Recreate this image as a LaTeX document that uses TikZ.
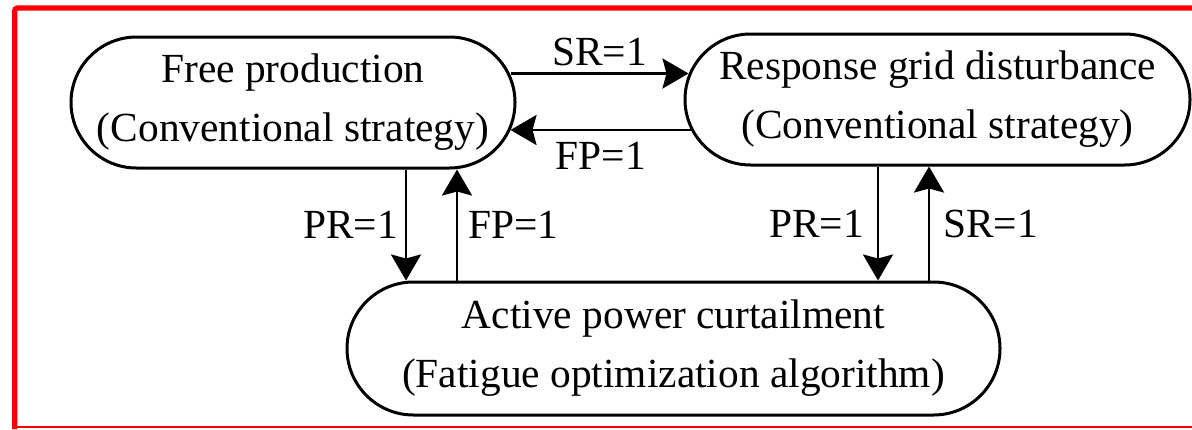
\documentclass[tikz,border=0pt]{standalone}
\usepackage{fontspec}
\setmainfont{Liberation Serif}
\usetikzlibrary{arrows.meta}

\begin{document}
\begin{tikzpicture}[x=0.5pt, y=-0.5pt, font=\fontsize{20.7}{29.5}\selectfont,
		modebox/.style={draw, line width=1.5pt, rounded corners=32.75pt, minimum height=65.5pt, align=center, inner sep=0pt},
		flow/.style={-{Stealth[length=13pt, width=15pt, inset=2pt]}, line width=1.4pt}]
			\useasboundingbox (0, 0) rectangle (1192, 429);
			\draw [red, line width=2.7pt, rounded corners=1.5pt] (1192, 8) -- (14.7, 8) -- (14.7, 429);
			\draw [red, line width=1pt] (14.7, 427) -- (1192, 427);
			\node [modebox, minimum width=222pt] (free) at (293, 102.5) {Free production\\(Conventional strategy)};
			\node [modebox, minimum width=252.5pt] (resp) at (937.5, 99.5) {Response grid disturbance\\(Conventional strategy)};
			\node [modebox, minimum width=326.5pt, minimum height=66.5pt, rounded corners=33.25pt] (apc) at (673.5, 348.5) {Active power curtailment\\(Fatigue optimization algorithm)};
			\coordinate (srA) at ([xshift=-3pt, yshift=14.5pt]free.east);
			\coordinate (srB) at ([xshift=2.5pt]srA -| resp.west);
			\draw [flow] (srA) -- (srB) node [midway, above] {SR=1};
			\coordinate (fpA) at ([xshift=3.75pt, yshift=-15.25pt]resp.west);
			\coordinate (fpB) at ([xshift=-3pt]fpA -| free.east);
			\draw [flow] (fpA) -- (fpB) node [midway, below=2pt] {FP=1};
			\coordinate (prA) at ([xshift=56.5pt]free.south);
			\draw [flow] (prA) -- (prA |- apc.north) node [midway, left] {PR=1};
			\coordinate (fpC) at ([xshift=82pt]free.south);
			\draw [flow] (fpC |- apc.north) -- (fpC) node [midway, right, xshift=1.5pt] {FP=1};
			\coordinate (prB) at ([xshift=-29.75pt]resp.south);
			\draw [flow] (prB) -- (prB |- apc.north) node [midway, left, xshift=-3pt] {PR=1};
			\coordinate (srC) at ([xshift=-4.25pt]resp.south);
			\draw [flow] (srC |- apc.north) -- (srC) node [midway, right, xshift=3pt] {SR=1};
		\end{tikzpicture}
\end{document}
